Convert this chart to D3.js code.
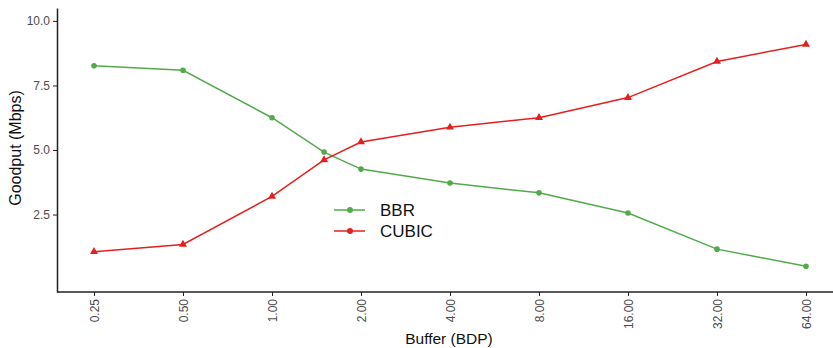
<!DOCTYPE html>
<html>
<head>
<meta charset="utf-8">
<script src="https://cdn.jsdelivr.net/npm/d3@7"></script>
<style>
  body { margin: 0; background: #fff; }
  svg { display: block; font-family: "Liberation Sans", Arial, sans-serif; }
  .axis path, .axis line { stroke: #222; }
  .axis text { fill: #4d4d4d; font-size: 12px; }
</style>
</head>
<body>
<div id="container"></div>
<script>
/* CONSTANTS AND GLOBALS */
const width = 833,
  height = 348,
  margin = { top: 8, bottom: 56, left: 57, right: 0 };

/* DATA */
const buffers = [0.25, 0.5, 1, 1.5, 2, 4, 8, 16, 32, 64];
const tickValues = [0.25, 0.5, 1, 2, 4, 8, 16, 32, 64];
const bbr = [8.26, 8.09, 6.25, 4.92, 4.26, 3.72, 3.34, 2.56, 1.16, 0.5];
const cubic = [1.06, 1.34, 3.2, 4.62, 5.31, 5.88, 6.25, 7.03, 8.43, 9.09];
const yTicks = [2.5, 5.0, 7.5, 10.0];

const series = [
  { name: "BBR", values: bbr, color: "#52AA4A", shape: "circle" },
  { name: "CUBIC", values: cubic, color: "#E3201F", shape: "triangle" }
];

// SCALES
const xScale = d3.scaleLog().base(2)
  .domain([0.25, 64])
  .range([94, 806]);

const yScale = d3.scaleLinear()
  .domain([-0.5, 10.5])
  .range([height - margin.bottom, margin.top]);

// CREATE SVG ELEMENT
const svg = d3.select("#container")
  .append("svg")
  .attr("width", width)
  .attr("height", height);

// AXES
const xAxis = d3.axisBottom(xScale)
  .tickValues(tickValues)
  .tickFormat(d => d.toFixed(2))
  .tickSize(4)
  .tickSizeOuter(0);
const yAxis = d3.axisLeft(yScale)
  .tickValues(yTicks)
  .tickFormat(d => d.toFixed(1))
  .tickSize(4)
  .tickSizeOuter(0);

const gx = svg.append("g")
  .attr("class", "axis xAxis")
  .attr("transform", `translate(0,${height - margin.bottom})`)
  .call(xAxis);
gx.select(".domain").attr("d", `M${margin.left},0H${width}`).attr("stroke-width", 1.5);
gx.selectAll(".tick text")
  .attr("transform", "rotate(-90)")
  .attr("text-anchor", "end")
  .attr("x", -7)
  .attr("y", 0)
  .attr("dy", "0.35em");

const gy = svg.append("g")
  .attr("class", "axis yAxis")
  .attr("transform", `translate(${margin.left},0)`)
  .call(yAxis);
gy.select(".domain").attr("stroke-width", 1.5);
gy.selectAll(".tick text").attr("x", -7);

svg.append("text")
  .attr("text-anchor", "middle")
  .attr("x", 449)
  .attr("y", 344)
  .attr("font-size", 15.5)
  .attr("fill", "#111")
  .text("Buffer (BDP)");

svg.append("text")
  .attr("text-anchor", "middle")
  .attr("transform", "translate(21,148) rotate(-90)")
  .attr("font-size", 16)
  .attr("fill", "#111")
  .text("Goodput (Mbps)");

// LINES AND POINTS
const lineGen = d3.line()
  .x((d, i) => xScale(buffers[i]))
  .y(d => yScale(d));

const triangle = d3.symbol().type(d3.symbolTriangle).size(28);

series.forEach(s => {
  svg.append("path")
    .datum(s.values)
    .attr("fill", "none")
    .attr("stroke", s.color)
    .attr("stroke-width", 1.5)
    .attr("d", lineGen);

  if (s.shape === "circle") {
    svg.selectAll(null)
      .data(s.values)
      .join("circle")
      .attr("cx", (d, i) => xScale(buffers[i]))
      .attr("cy", d => yScale(d))
      .attr("r", 2.8)
      .attr("fill", s.color);
  } else {
    svg.selectAll(null)
      .data(s.values)
      .join("path")
      .attr("d", triangle)
      .attr("transform", (d, i) => `translate(${xScale(buffers[i])},${yScale(d)})`)
      .attr("fill", s.color);
  }
});

// LEGEND
const legend = svg.append("g").attr("transform", "translate(334,210)");
series.forEach((s, i) => {
  const g = legend.append("g").attr("transform", `translate(0,${i * 21})`);
  g.append("line")
    .attr("x1", 0).attr("x2", 31)
    .attr("stroke", s.color)
    .attr("stroke-width", 1.5);
  g.append("circle")
    .attr("cx", 16).attr("r", 3)
    .attr("fill", s.color);
  g.append("text")
    .attr("x", 46)
    .attr("dy", "0.36em")
    .attr("font-size", 17)
    .attr("fill", "#111")
    .text(s.name);
});
</script>
</body>
</html>
